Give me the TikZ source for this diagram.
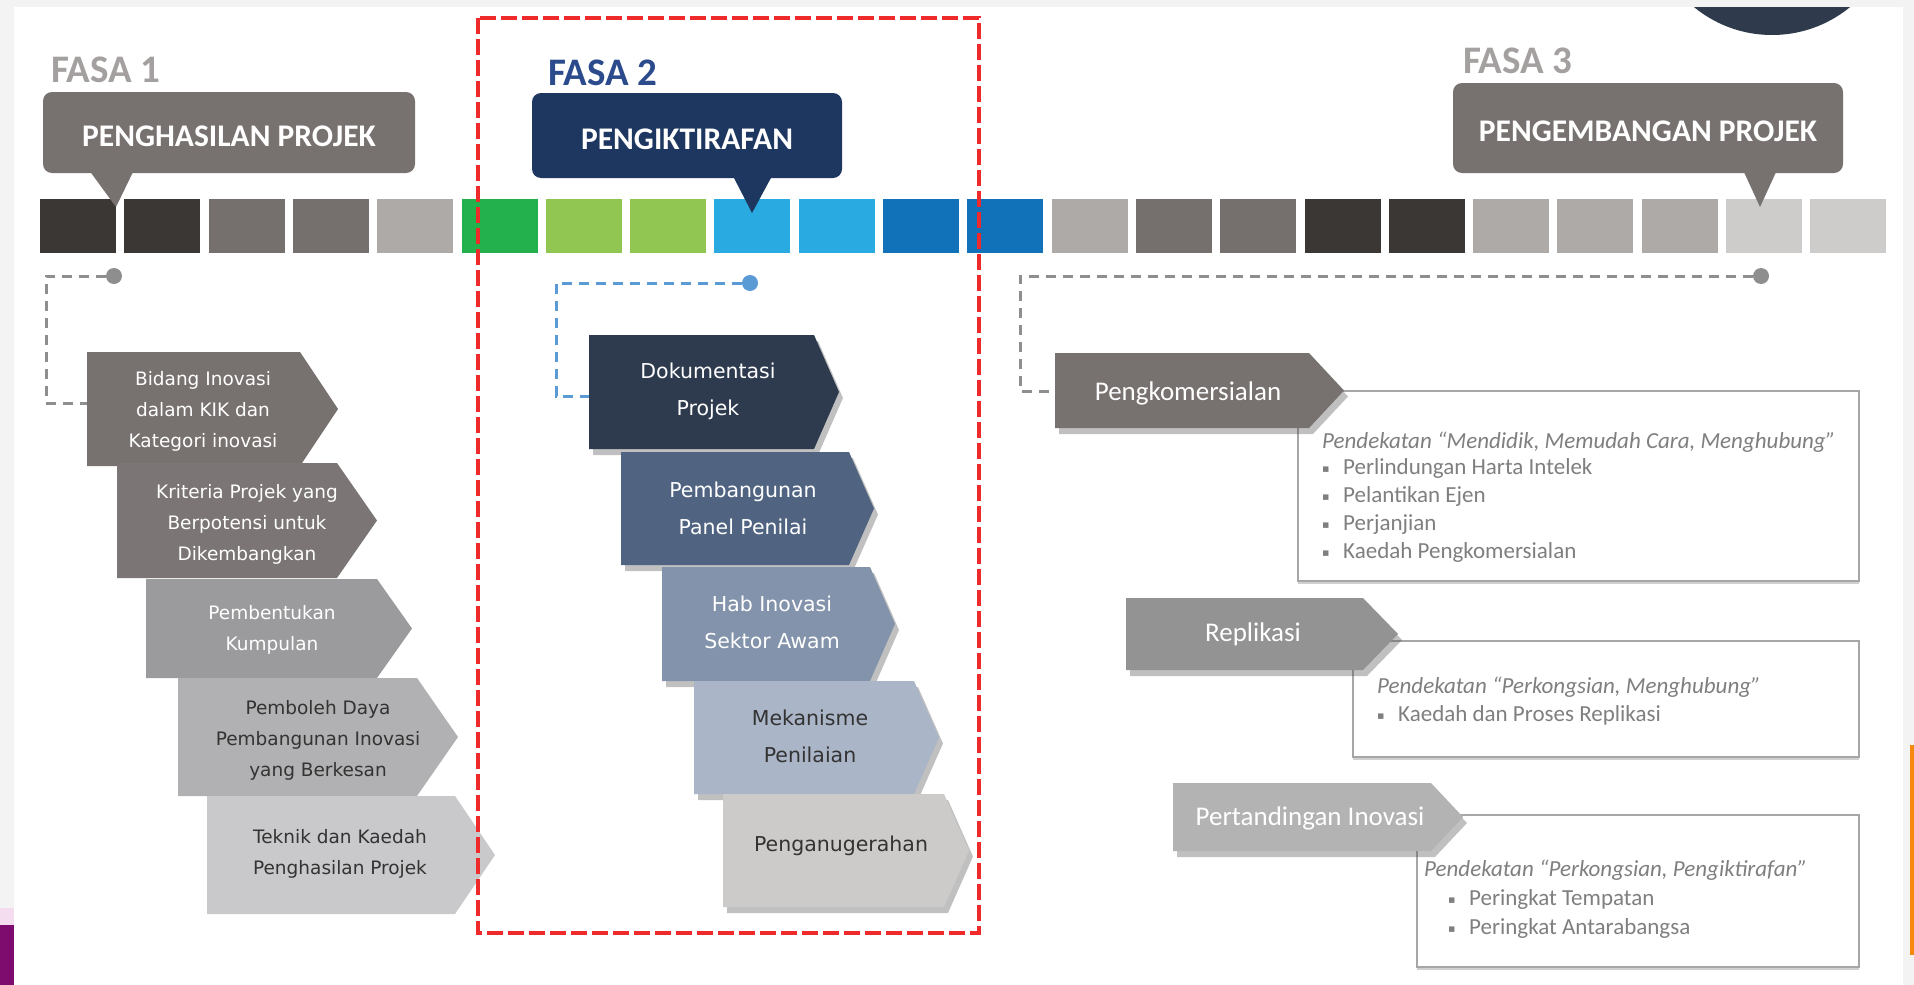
\documentclass[tikz,border=0pt]{standalone}
\usepackage{fontspec}
\setmainfont{Carlito}
\newfontfamily\dejavu{DejaVu Sans}
\usetikzlibrary{shadows}

\definecolor{bgray}{HTML}{F3F3F3}
\definecolor{tdark}{HTML}{3A3735}
\definecolor{tgray}{HTML}{75706D}
\definecolor{tlight}{HTML}{AEAAA8}
\definecolor{tpale}{HTML}{CDCCCB}
\definecolor{tgreen}{HTML}{22B14C}
\definecolor{tlgreen}{HTML}{92C653}
\definecolor{tsky}{HTML}{29ABE2}
\definecolor{tblue}{HTML}{1272B9}
\definecolor{cgray}{HTML}{77716F}
\definecolor{cnavy}{HTML}{1D3760}
\definecolor{fgray}{HTML}{A3A09F}
\definecolor{fnavy}{HTML}{2B4B8C}
\definecolor{pa}{HTML}{77716F}
\definecolor{pb}{HTML}{7B7675}
\definecolor{pc}{HTML}{9B9A9C}
\definecolor{pd}{HTML}{B1B1B3}
\definecolor{pe}{HTML}{C9C9CB}
\definecolor{qa}{HTML}{2E3B4F}
\definecolor{qb}{HTML}{506482}
\definecolor{qc}{HTML}{8393AB}
\definecolor{qd}{HTML}{AAB5C7}
\definecolor{qe}{HTML}{CCCBC9}
\definecolor{ra}{HTML}{77716F}
\definecolor{rb}{HTML}{939393}
\definecolor{rc}{HTML}{B3B3B3}
\definecolor{darktxt}{HTML}{333333}
\definecolor{infogray}{HTML}{7F7F7F}
\definecolor{boxline}{HTML}{A6A6A6}
\definecolor{lgray}{HTML}{8E8E8E}
\definecolor{lblue}{HTML}{5B9BD5}
\definecolor{redline}{HTML}{EE2A2A}
\definecolor{navyc}{HTML}{2F3B4D}
\definecolor{mag}{HTML}{7E0C6E}
\definecolor{pinkish}{HTML}{F4DDEE}
\definecolor{orng}{HTML}{F7890F}

\newcommand{\sqb}{\makebox[21pt][l]{\raisebox{2pt}{\dejavu\fontsize{11}{11}\selectfont ▪}}}

\tikzset{
  tile/.style={fill=#1},
  callbox/.style={fill=#1, rounded corners=9pt, inner sep=0pt, text height=27pt, text depth=0pt, text=white, font=\bfseries\fontsize{31.5}{36}\selectfont},
  fasa/.style={anchor=base west, inner sep=0pt, text=#1, font=\bfseries\fontsize{39}{44}\selectfont},
  chevA/.style={fill=#1},
  chevB/.style={fill=#1, drop shadow={shadow xshift=4pt, shadow yshift=-6pt, opacity=.35, fill=black!70}},
  txtA/.style={align=center, inner sep=0pt, text=#1, font=\dejavu\fontsize{18.5}{31}\selectfont},
  txtB/.style={align=center, inner sep=0pt, text=#1, font=\dejavu\fontsize{20.5}{37}\selectfont},
  txtC/.style={inner sep=0pt, text=white, font=\fontsize{27}{32}\selectfont},
  infobox/.style={draw=boxline, line width=2.5pt, fill=white, drop shadow={shadow xshift=0pt, shadow yshift=-3pt, opacity=.3, fill=black!60}},
  infotxt/.style={anchor=base west, align=left, inner sep=0pt, text=infogray, font=\fontsize{23}{28}\selectfont},
  dot/.style={circle, fill=#1, inner sep=0pt, minimum size=16pt},
  link/.style={draw=#1, line width=3pt, dash pattern=on 10pt off 7pt},
  redframe/.style={draw=redline, line width=4pt, dash pattern=on 16pt off 5pt}
}

\begin{document}
\begin{tikzpicture}[x=1pt, y=-1pt]
\useasboundingbox (0,0) rectangle (1914,985);
% \draw[help lines, gray] (0,0) grid[step=100] (1914,985);
\fill[bgray] (0,0) rectangle (1914,985);
\fill[white] (14,7) rectangle (1903,985);
\fill[pinkish] (0,908) rectangle (14,925);
\fill[mag] (0,925) rectangle (14,985);
\fill[orng] (1910,745) rectangle (1914,955);
\begin{scope}
\clip (14,7) rectangle (1903,985);
\fill[navyc] (1772,-88) circle (123pt);
\end{scope}

% barisan petak
\foreach \c [count=\i from 0] in {tdark,tdark,tgray,tgray,tlight,tgreen,tlgreen,tlgreen,tsky,tsky,tblue,tblue,tlight,tgray,tgray,tdark,tdark,tlight,tlight,tlight,tpale,tpale}
  \fill[tile=\c] ({40+84.3*\i},199) rectangle ++(76,54);

% fasa
\node[fasa=fgray] (f1) at (51,82) {FASA 1};
\node[fasa=fnavy] (f2) at (548,85) {FASA 2};
\node[fasa=fgray] (f3) at (1463,73) {FASA 3};
\node[callbox=cgray, minimum width=372, minimum height=81] (c1) at (229,132.5) {PENGHASILAN PROJEK};
\fill[cgray] (89,170) -- (134,170) -- (116,207) -- cycle;
\node[callbox=cnavy, minimum width=310, minimum height=85] (c2) at (687,135.5) {PENGIKTIRAFAN};
\fill[cnavy] (733,176) -- (772,176) -- (752,213) -- cycle;
\node[callbox=cgray, minimum width=390, minimum height=90] (c3) at (1648,128) {PENGEMBANGAN PROJEK};
\fill[cgray] (1743,170) -- (1777,170) -- (1760,207) -- cycle;

% fasa 1
\fill[chevA=pa] (87,352) -- (300,352) -- (338,409) -- (300,466) -- (87,466) -- cycle;
\fill[chevA=pb] (117,463) -- (337,463) -- (377,520.5) -- (337,578) -- (117,578) -- cycle;
\fill[chevA=pc] (146,579) -- (377,579) -- (412,628.5) -- (377,678) -- (146,678) -- cycle;
\fill[chevA=pd] (178,678) -- (417,678) -- (458,737) -- (417,796) -- (178,796) -- cycle;
\fill[chevA=pe] (207,796) -- (455,796) -- (495,855) -- (455,914) -- (207,914) -- cycle;
\node[txtA=white] (bidang) at (203,411) {Bidang Inovasi\\dalam KIK dan\\Kategori inovasi};
\node[txtA=white] (kriteria) at (247,524) {Kriteria Projek yang\\Berpotensi untuk\\Dikembangkan};
\node[txtA=white] (kumpulan) at (272,630) {Pembentukan\\Kumpulan};
\node[txtA=darktxt] (pemboleh) at (318,740) {Pemboleh Daya\\Pembangunan Inovasi\\yang Berkesan};
\node[txtA=darktxt] (teknik) at (340,854) {Teknik dan Kaedah\\Penghasilan Projek};
\coordinate (in1) at (87,403);
\node[dot=lgray] (dot1) at (114,276) {};
\draw[link=lgray] (dot1) -- ++(-68,0) |- (in1);

% fasa 2
\fill[chevB=qa] (589,335) -- (814,335) -- (839,392) -- (814,449) -- (589,449) -- cycle;
\fill[chevB=qb] (621,452) -- (849,452) -- (874,508.5) -- (849,565) -- (621,565) -- cycle;
\fill[chevB=qc] (662,567) -- (870,567) -- (895,624) -- (870,681) -- (662,681) -- cycle;
\fill[chevB=qd] (694,681) -- (914,681) -- (939,737.5) -- (914,794) -- (694,794) -- cycle;
\fill[chevB=qe] (723,794) -- (944,794) -- (969,850.5) -- (944,907) -- (723,907) -- cycle;
\node[txtB=white] (dokumen) at (708,391) {Dokumentasi\\Projek};
\node[txtB=white] (panel) at (743,508) {Pembangunan\\Panel Penilai};
\node[txtB=white] (hab) at (772,622) {Hab Inovasi\\Sektor Awam};
\node[txtB=darktxt] (mekanisme) at (810,736) {Mekanisme\\Penilaian};
\node[txtB=darktxt] (anugerah) at (841,846) {Penganugerahan};
\coordinate (in2) at (589,396);
\node[dot=lblue] (dot2) at (750,283) {};
\draw[link=lblue] (dot2) -- ++(-194,0) |- (in2);

% fasa 3
\draw[infobox] (1298,391) rectangle (1859,581);
\draw[infobox] (1353,641) rectangle (1859,757);
\draw[infobox] (1417,815) rectangle (1859,967);
\fill[chevB=ra] (1055,353) -- (1309,353) -- (1344,390.5) -- (1309,428) -- (1055,428) -- cycle;
\fill[chevB=rb] (1126,598) -- (1363,598) -- (1398,634) -- (1363,670) -- (1126,670) -- cycle;
\fill[chevB=rc] (1173,783) -- (1431,783) -- (1463,817) -- (1431,851) -- (1173,851) -- cycle;
\node[txtC] (komersial) at (1188,393) {Pengkomersialan};
\node[txtC] (replikasi) at (1253,634) {Replikasi};
\node[txtC] (pertandingan) at (1310,818) {Pertandingan Inovasi};
\node[infotxt] (t1) at (1322,558) {\textit{Pendekatan “Mendidik, Memudah Cara, Menghubung”}\\[-2pt]
  \sqb Perlindungan Harta Intelek\\ \sqb Pelantikan Ejen\\ \sqb Perjanjian\\ \sqb Kaedah Pengkomersialan};
\node[infotxt] (t2) at (1377,721) {\textit{Pendekatan “Perkongsian, Menghubung”}\\
  \sqb Kaedah dan Proses Replikasi};
\node[infotxt] (t3) at (1424,934) {\textit{Pendekatan “Perkongsian, Pengiktirafan”}\\[1pt]
  \hspace*{24pt}\sqb Peringkat Tempatan\\[1pt] \hspace*{24pt}\sqb Peringkat Antarabangsa};
\coordinate (in3) at (1055,391);
\node[dot=lgray] (dot3) at (1761,276) {};
\draw[link=lgray] (dot3) -- ++(-741,0) |- (in3);

\draw[redframe] (478,18) rectangle (979,933);
\end{tikzpicture}
\end{document}
